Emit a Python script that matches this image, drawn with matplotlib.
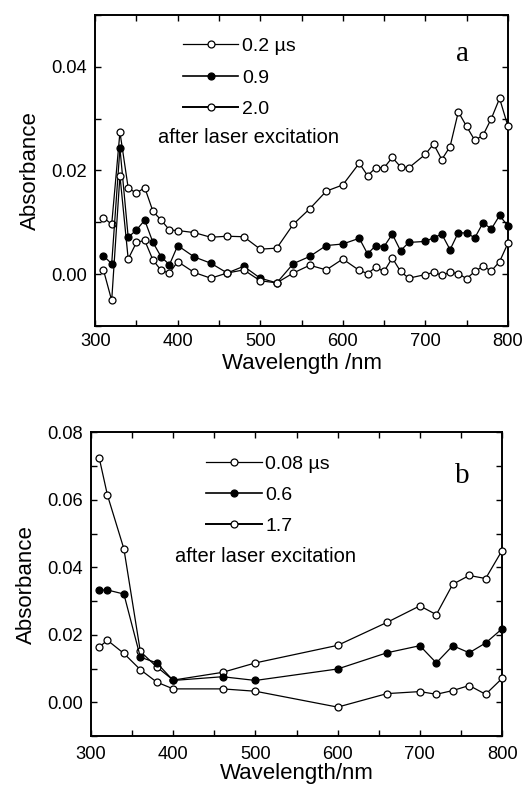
import matplotlib.pyplot as plt
import numpy as np
from matplotlib.ticker import MultipleLocator

plt.rcParams['font.family'] = ['Liberation Sans', 'DejaVu Sans']

# panel a
wl_a = [310, 320, 330, 340, 350, 360, 370, 380, 390, 400, 420, 440, 460, 480, 500,
        520, 540, 560, 580, 600, 620, 630, 640, 650, 660, 670, 680, 700, 710, 720,
        730, 740, 750, 760, 770, 780, 790, 800]
abs_a_02 = [0.0109, 0.0096, 0.0274, 0.0166, 0.0156, 0.0167, 0.0121, 0.0104, 0.0085, 0.0084,
            0.0080, 0.0071, 0.0073, 0.0072, 0.0048, 0.0050, 0.0096, 0.0126, 0.0160, 0.0172,
            0.0214, 0.0190, 0.0205, 0.0205, 0.0225, 0.0207, 0.0205, 0.0231, 0.0251, 0.0221,
            0.0246, 0.0313, 0.0285, 0.0258, 0.0268, 0.0300, 0.0339, 0.0286]
abs_a_09 = [0.0035, 0.0020, 0.0243, 0.0071, 0.0085, 0.0104, 0.0061, 0.0033, 0.0018, 0.0055,
            0.0033, 0.0021, 0.0002, 0.0015, -0.0008, -0.0017, 0.0020, 0.0034, 0.0055, 0.0058,
            0.0069, 0.0039, 0.0055, 0.0053, 0.0077, 0.0045, 0.0061, 0.0063, 0.0070, 0.0077,
            0.0047, 0.0080, 0.0079, 0.0070, 0.0099, 0.0087, 0.0113, 0.0093]
abs_a_20 = [0.0008, -0.0051, 0.0190, 0.0029, 0.0061, 0.0065, 0.0027, 0.0007, 0.0002, 0.0024,
            0.0003, -0.0008, 0.0002, 0.0008, -0.0013, -0.0017, 0.0002, 0.0017, 0.0008, 0.0029,
            0.0007, 0.0001, 0.0013, 0.0005, 0.0031, 0.0005, -0.0008, -0.0001, 0.0003, -0.0002,
            0.0003, 0.0001, -0.0009, 0.0005, 0.0015, 0.0006, 0.0024, 0.0059]
labels_a = ['0.2 \u00b5s', '0.9', '2.0']

# panel b
wl_b = [310, 320, 340, 360, 380, 400, 460, 500, 600, 660, 700, 720, 740, 760, 780, 800]
abs_b_008 = [0.0724, 0.0614, 0.0455, 0.0151, 0.0105, 0.0066, 0.0089, 0.0117, 0.0169, 0.0237,
             0.0286, 0.0260, 0.0350, 0.0376, 0.0367, 0.0450]
abs_b_06 = [0.0333, 0.0333, 0.0321, 0.0134, 0.0117, 0.0065, 0.0076, 0.0065, 0.0099, 0.0147,
            0.0168, 0.0117, 0.0168, 0.0147, 0.0176, 0.0218]
abs_b_17 = [0.0164, 0.0184, 0.0145, 0.0097, 0.0060, 0.0040, 0.0040, 0.0033, -0.0014, 0.0026,
            0.0032, 0.0024, 0.0035, 0.0050, 0.0024, 0.0071]
labels_b = ['0.08 \u00b5s', '0.6', '1.7']

fig = plt.figure(figsize=(5.23, 7.89), dpi=100)
ax1 = fig.add_axes([0.182, 0.587, 0.789, 0.394])
ax2 = fig.add_axes([0.174, 0.067, 0.786, 0.385])


def draw_panel(ax, x, series, labels, ylim, xlabel, letter, leg_xy, note_xy, letter_xy,
               xpad, xlabpad):
    fills = ['white', 'black', 'white']
    handles = []
    for y, lab, fc in zip(series, labels, fills):
        h, = ax.plot(x, y, '-o', color='black', lw=0.9, ms=5, mfc=fc, mec='black',
                     mew=0.9, clip_on=False, label=lab, zorder=3)
        handles.append(h)
    ax.set_xlim(300, 800)
    ax.set_ylim(*ylim)
    ax.xaxis.set_major_locator(MultipleLocator(100))
    ax.xaxis.set_minor_locator(MultipleLocator(50))
    ax.yaxis.set_major_locator(MultipleLocator(0.02))
    ax.yaxis.set_minor_locator(MultipleLocator(0.01))
    ax.yaxis.set_major_formatter(plt.FormatStrFormatter('%.2f'))
    ax.tick_params(which='both', direction='in', top=True, right=True, length=4,
                   width=1, labelsize=13.2, pad=6)
    ax.tick_params(axis='x', which='both', pad=xpad)
    for s in ax.spines.values():
        s.set_linewidth(1.4)
    ax.set_xlabel(xlabel, fontsize=16, labelpad=xlabpad)
    ax.set_ylabel('Absorbance', fontsize=16, labelpad=7)
    leg = ax.legend(handles=handles, loc='upper left', bbox_to_anchor=leg_xy, frameon=False,
                    fontsize=14, handlelength=2.85, handletextpad=0.2, labelspacing=0.7,
                    borderaxespad=0, borderpad=0)
    for lh, lw in zip(leg.get_lines(), [0.9, 1.2, 1.4]):
        lh.set_linewidth(lw)
    ax.text(note_xy[0], note_xy[1], 'after laser excitation', transform=ax.transAxes,
            fontsize=14.5, va='center', ha='left')
    ax.text(letter_xy[0], letter_xy[1], letter, transform=ax.transAxes, fontsize=21,
            family='Liberation Serif', va='center', ha='center')


draw_panel(ax1, wl_a, [abs_a_02, abs_a_09, abs_a_20], labels_a, (-0.01, 0.05),
           'Wavelength /nm', 'a', (0.213, 0.927), (0.153, 0.607), (0.889, 0.875), 5, 2)
draw_panel(ax2, wl_b, [abs_b_008, abs_b_06, abs_b_17], labels_b, (-0.01, 0.08),
           'Wavelength/nm', 'b', (0.28, 0.925), (0.204, 0.592), (0.903, 0.855), 7, 0)

fig.savefig('out.png', dpi=100)
